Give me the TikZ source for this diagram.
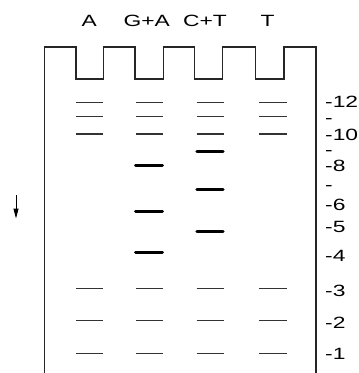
\documentclass[tikz,border=0pt]{standalone}
\usepackage{fontspec}
\newfontfamily\labfont[FakeStretch=1.4]{Liberation Sans}
\usetikzlibrary{arrows.meta}
\tikzset{
  gel/.style={draw=black!85, line width=1.2pt},
  thinband/.style={draw=black!80, line width=1.2pt},
  thickband/.style={draw=black, line width=3pt, line cap=round},
  lanelab/.style={anchor=base, inner sep=0pt, font=\labfont\fontsize{16.3}{19}\selectfont},
  ticklab/.style={anchor=base west, inner sep=0pt, font=\labfont\fontsize{16.3}{19}\selectfont},
}
\begin{document}
\begin{tikzpicture}[x=1pt,y=-1pt]
\useasboundingbox (0,0) rectangle (359,373);
% gel outline with wells
\draw[gel] (44.5,373) -- (44.5,47) -- (76,47) -- (76,79) -- (103.3,79) -- (103.3,47)
  -- (135,47) -- (135,79) -- (163.3,79) -- (163.3,47)
  -- (194.3,47) -- (194.3,79) -- (222.7,79) -- (222.7,47)
  -- (255.7,47) -- (255.7,79) -- (284,79) -- (284,47)
  -- (316,47) -- (316,373);
% lane labels
\node[lanelab] (lA) at (89.2,26.7) {A};
\node[lanelab] (lGA) at (146.7,26.7) {G+A};
\node[lanelab] (lCT) at (205,26.7) {C+T};
\node[lanelab] (lT) at (267.5,26.7) {T};
% thin bands in all lanes
\foreach \y in {102.3,116.7,134,288.3,320.7,353.3}{
  \draw[thinband] (76,\y) -- (102.5,\y);
  \draw[thinband] (136,\y) -- (162.7,\y);
  \draw[thinband] (196.7,\y) -- (224,\y);
  \draw[thinband] (259.3,\y) -- (286.7,\y);
}
% thick bands
\foreach \y in {165,211.7,252.7}{
  \draw[thickband] (135.5,\y) -- (162.5,\y);
}
\foreach \y in {151.7,189.3,231.7}{
  \draw[thickband] (196.8,\y) -- (223.2,\y);
}
% size markers
\node[ticklab] (t12) at (325,107.3) {-12};
\node[ticklab] (t11) at (325,123.5) {-};
\node[ticklab] (t10) at (325,140) {-10};
\node[ticklab] (t9) at (325,155.2) {-};
\node[ticklab] (t8) at (325,171.7) {-8};
\node[ticklab] (t7) at (325,190) {-};
\node[ticklab] (t6) at (325,210) {-6};
\node[ticklab] (t5) at (325,232.3) {-5};
\node[ticklab] (t4) at (325,261.7) {-4};
\node[ticklab] (t3) at (325,296.7) {-3};
\node[ticklab] (t2) at (325,328.3) {-2};
\node[ticklab] (t1) at (325,359) {-1};
% direction arrow
\coordinate (arS) at (16,195);
\coordinate (arE) at (16,218.5);
\draw[line width=1pt, -{Triangle[length=10pt,width=5pt]}] (arS) -- (arE);
\end{tikzpicture}
\end{document}
